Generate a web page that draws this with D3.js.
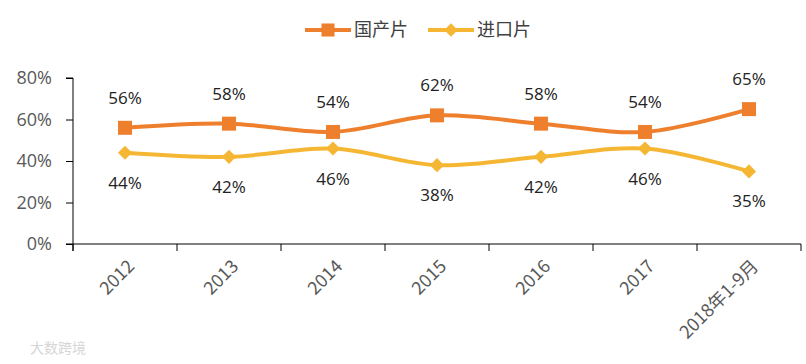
<!DOCTYPE html>
<html>
<head>
<meta charset="utf-8">
<script src="https://cdn.jsdelivr.net/npm/d3@7"></script>
<style>
body { margin: 0; background: #fff; }
text { font-family: "Microsoft YaHei", "Noto Sans CJK SC", sans-serif; }
</style>
</head>
<body>
<div class="graphic"></div>
<script>
var width = 806;
var height = 364;

var categories = ["2012", "2013", "2014", "2015", "2016", "2017", "2018年1-9月"];
var domestic = [56, 58, 54, 62, 58, 54, 65];
var imported = [44, 42, 46, 38, 42, 46, 35];
var yTicks = [0, 20, 40, 60, 80];

var orange = "#EE7F2D";
var gold = "#F5B733";

var svg = d3.select("div.graphic").append("svg")
	.attr("width", width)
	.attr("height", height);

var x = d3.scaleBand().domain(categories).range([73, 801]);
var y = d3.scaleLinear().domain([0, 80]).range([244, 78]);

// y axis
var yAxis = svg.append("g")
	.attr("transform", "translate(73,0)")
	.call(d3.axisLeft(y).tickValues(yTicks).tickSize(7).tickPadding(14)
		.tickFormat(function(d){ return d + "%"; }));
yAxis.select(".domain").attr("stroke", "#000").attr("d", "M-7,78H0V251");
yAxis.selectAll(".tick line").attr("stroke", "#000");
yAxis.selectAll(".tick text").attr("font-size", 18).attr("fill", "#595959")
	.style("font-family", "'Open Sans', 'Noto Sans CJK SC', sans-serif");

// x axis
var xAxis = svg.append("g")
	.attr("transform", "translate(0,244)");
xAxis.append("line").attr("x1", 66).attr("x2", 801).attr("stroke", "#000");
xAxis.selectAll("line.tk")
	.data(categories.concat(["end"]))
	.enter()
	.append("line")
	.attr("class", "tk")
	.attr("x1", function(d, i){ return 73 + i * x.bandwidth(); })
	.attr("x2", function(d, i){ return 73 + i * x.bandwidth(); })
	.attr("y1", 0).attr("y2", 7)
	.attr("stroke", "#000");
xAxis.selectAll("text")
	.data(categories)
	.enter()
	.append("text")
	.attr("transform", function(d){
		return "translate(" + (x(d) + x.bandwidth() / 2 + 6) + ",19) rotate(-45)";
	})
	.attr("text-anchor", "end")
	.attr("dy", "0.35em")
	.attr("font-size", 18)
	.attr("fill", "#595959")
	.text(function(d){ return d; });

var line = d3.line()
	.x(function(d, i){ return x(categories[i]) + x.bandwidth() / 2; })
	.y(function(d){ return y(d); })
	.curve(d3.curveCatmullRom.alpha(0.5));

function drawSeries(values, color, size, rot, labelOffset){
	var g = svg.append("g");
	g.append("path")
		.attr("d", line(values))
		.attr("fill", "none")
		.attr("stroke", color)
		.attr("stroke-width", 4);
	g.selectAll("path.mk")
		.data(values)
		.enter()
		.append("path")
		.attr("class", "mk")
		.attr("d", d3.symbol().type(d3.symbolSquare).size(size))
		.attr("transform", function(d, i){
			var px = x(categories[i]) + x.bandwidth() / 2;
			return "translate(" + px + "," + y(d) + ") rotate(" + rot + ")";
		})
		.attr("fill", color);
	g.selectAll("text")
		.data(values)
		.enter()
		.append("text")
		.attr("x", function(d, i){ return x(categories[i]) + x.bandwidth() / 2; })
		.attr("y", function(d){ return y(d) + labelOffset; })
		.attr("text-anchor", "middle")
		.attr("dy", "0.35em")
		.attr("font-size", 17)
		.attr("fill", "#222")
		.style("font-family", "'Open Sans', 'Noto Sans CJK SC', sans-serif")
		.text(function(d){ return d + "%"; });
}

drawSeries(domestic, orange, 196, 0, -30);
drawSeries(imported, gold, 100, 45, 30);

// legend
var legendItems = [
	{ name: "国产片", color: orange, size: 170, rot: 0, x: 305 },
	{ name: "进口片", color: gold, size: 90, rot: 45, x: 428 }
];
var legend = svg.append("g");
legendItems.forEach(function(item){
	var lg = legend.append("g").attr("transform", "translate(" + item.x + ",30)");
	lg.append("line").attr("x1", 0).attr("x2", 46)
		.attr("stroke", item.color).attr("stroke-width", 4);
	lg.append("path").attr("d", d3.symbol().type(d3.symbolSquare).size(item.size)())
		.attr("transform", "translate(23,0) rotate(" + item.rot + ")").attr("fill", item.color);
	lg.append("text").attr("x", 49).attr("dy", "0.35em")
		.attr("font-size", 18).attr("fill", "#404040").text(item.name);
});

// watermark
svg.append("text")
	.attr("x", 30).attr("y", 353)
	.attr("font-size", 14)
	.attr("fill", "#d6d6d6")
	.text("大数跨境");
</script>
</body>
</html>
